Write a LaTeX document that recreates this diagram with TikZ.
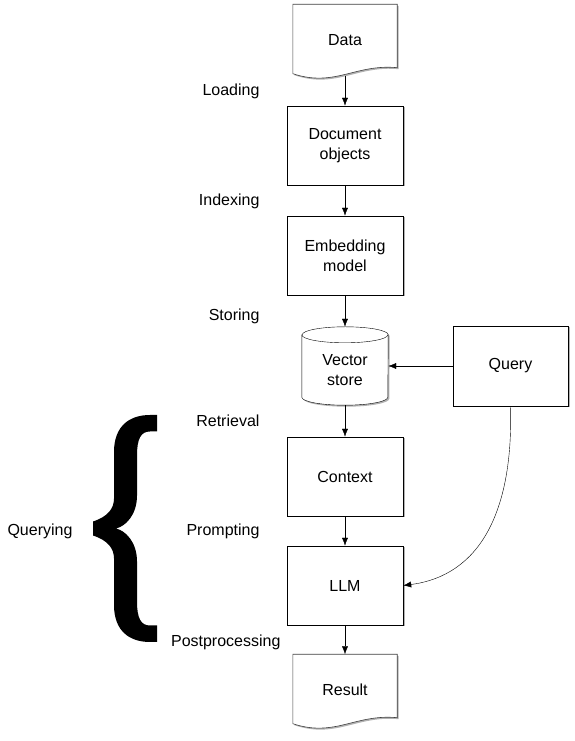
\documentclass[tikz,border=0pt]{standalone}
\usepackage{fontspec}
\setmainfont{Liberation Sans}
\usepackage{tikz}
\usetikzlibrary{calc, arrows.meta, shadows}

\begin{document}
\begin{tikzpicture}[x=1pt, y=1pt,
    every node/.style={font=\fontsize{16}{20}\selectfont},
    softshadow/.style={drop shadow={shadow xshift=1.5pt, shadow yshift=-1.5pt, opacity=0.3, fill=black}},
    box/.style={draw, thin, fill=white, softshadow, minimum width=116, minimum height=79, align=center, inner sep=0pt},
    docnode/.style={minimum width=104, minimum height=71, inner sep=0pt},
    docline/.style={draw=black!75, line width=0.6pt, fill=white, softshadow},
    flow/.style={-{Latex[length=8pt, width=6pt]}, thin},
    steplabel/.style={anchor=east}
  ]

    % 1. Fix the page size
    \useasboundingbox (0,0) rectangle (575,741);

    % 2. Main column
    \node[docnode] (data) at (345,701) {};
    \node[box] (docobj) at (345,595.5) {Document\\objects};
    \node[box] (embed) at (345,485.5) {Embedding\\model};
    \node[minimum width=86, minimum height=78, inner sep=0pt] (vstore) at (345,375) {};
    \node[box] (context) at (345,264.5) {Context};
    \node[box] (llm) at (345,155.5) {LLM};
    \node[docnode] (result) at (345,51) {};

    % Query box on the right
    \node[box, minimum width=115, minimum height=80] (query) at (510.5,375) {Query};

    % 3. Document shapes with a wavy bottom edge
    \foreach \d/\txt in {data/Data, result/Result} {
        \draw[docline] (\d.north west) -- (\d.north east) -- ($(\d.south east)+(0,8)$)
            .. controls ($(\d.south east)+(-42,12)$) and ($(\d.south west)+(42,-12)$) .. ($(\d.south west)+(0,2)$)
            -- cycle;
        \node at (\d) {\txt};
    }

    % 4. Cylinder for the vector store
    \draw[thin, fill=white, softshadow] ($(vstore.north west)+(0,-8)$) -- ($(vstore.south west)+(0,8)$)
        arc[start angle=180, end angle=360, x radius=43, y radius=8]
        -- ($(vstore.north east)+(0,-8)$)
        arc[start angle=0, end angle=180, x radius=43, y radius=8] -- cycle;
    \draw[thin] ($(vstore.north west)+(0,-8)$) arc[start angle=180, end angle=360, x radius=43, y radius=8];
    \node[align=center] at ($(vstore)+(0,-4)$) {Vector\\store};

    % 5. Connectors
    \foreach \a/\b in {data/docobj, docobj/embed, embed/vstore, vstore/context, context/llm, llm/result} {
        \draw[flow] (\a.south) -- (\b.north);
    }
    \draw[flow] (query.west) -- (vstore.east);
    \draw[flow] (query.south) .. controls +(3,-105) and +(77,10) .. (llm.east);

    % 6. Step labels
    \node[steplabel] (lload) at (263,650) {Loading};
    \node[steplabel] (lindex) at (263,540) {Indexing};
    \node[steplabel] (lstore) at (263,425) {Storing};
    \node[steplabel] (lretr) at (263,320) {Retrieval};
    \node[steplabel] (lprompt) at (263,210) {Prompting};
    \node[steplabel] (lpost) at (284,99) {Postprocessing};
    \node (lquery) at (40,210) {Querying};

    % 7. Big curly brace
    \begin{scope}[shift={(93,212.5)}]
        \fill (0,7) .. controls (15,12) and (21,20) .. (21,30) -- (21,76.5)
            .. controls (21,103) and (37,113.5) .. (57,113.5) -- (64,113.5) -- (64,97) -- (57,97)
            .. controls (48,97) and (44,90) .. (44,73) -- (44,33)
            .. controls (44,13) and (32,2) .. (23,0)
            .. controls (32,-2) and (44,-13) .. (44,-33) -- (44,-73)
            .. controls (44,-90) and (48,-97) .. (57,-97) -- (64,-97) -- (64,-113.5) -- (57,-113.5)
            .. controls (37,-113.5) and (21,-103) .. (21,-76.5) -- (21,-30)
            .. controls (21,-20) and (15,-12) .. (0,-7) -- cycle;
    \end{scope}

\end{tikzpicture}
\end{document}
